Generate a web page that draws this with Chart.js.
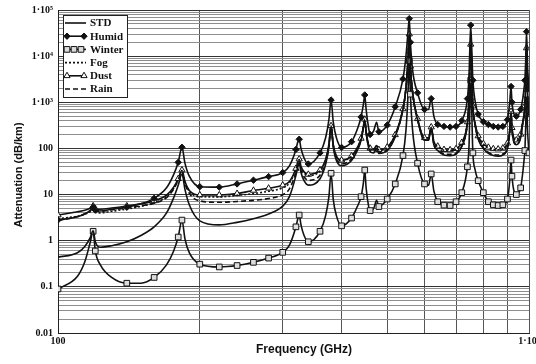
<!DOCTYPE html>
<html><head><meta charset="utf-8">
<script src="https://cdn.jsdelivr.net/npm/chart.js@4.4.1/dist/chart.umd.min.js"></script>
<style>html,body{margin:0;padding:0;background:#fff}#wrap{width:536px;height:364px}</style>
</head><body><div id="wrap"><canvas id="c" width="536" height="364"></canvas></div>
<script>
// Frequencies (GHz)
const freqs = [100,110,114,117,118.75,120,123,130,140,150,160,170,176,180,183.3,186,190,200,220,240,260,280,300,310,320,323,325.15,328,333,340,360,370,376,380,384,390,400,420,432,440,445,448,451,456,460,468,474.7,480,500,520,540,548,553,556.9,560,566,580,600,612,620,628,640,660,680,700,720,740,746,752,760,768,780,800,820,840,860,880,900,910,916,920,940,960,970,976,980,984,988,993,1000];
// Attenuation (dB/km)
const stdVals = [0.44,0.55,0.75,1.15,1.65,0.95,0.72,0.78,0.95,1.3,2.0,4.0,8.5,16,28,13,6,2.7,2.2,2.5,3.0,3.8,5.6,9,26,40,48,30,20,16,22,45,110,296,110,55,42,55,90,150,280,413,220,110,85,80,100,78,90,180,700,2000,7000,30000,6000,1600,420,150,150,270,120,90,72,70,75,110,350,1200,18000,800,330,160,100,78,70,68,72,100,220,600,250,120,170,350,500,800,2500,15000,1500,500];
const humidVals = [2.8,3.3,3.8,4.5,5.3,4.6,4.4,4.8,5.3,6.3,8.3,14,27,50,106,48,25,14.8,14.5,17,20.5,24.5,30,42,95,140,158,100,62,46,80,170,420,1120,380,170,105,140,260,480,900,1440,700,300,200,240,370,230,320,800,3200,10000,30000,65000,20000,5000,1600,700,700,1200,500,330,300,290,300,400,1200,4000,47000,3000,1100,550,380,330,300,290,300,420,1000,2200,1000,500,700,1200,2000,3000,8000,34000,6000,2000];
const winterVals = [0.09,0.17,0.35,0.9,1.6,0.6,0.3,0.16,0.12,0.12,0.16,0.3,0.6,1.2,2.8,1.1,0.55,0.31,0.27,0.29,0.34,0.42,0.56,0.8,2.0,3.0,3.6,2.2,1.3,0.95,1.6,3.5,9,29,8,3.5,2.1,3.1,5.5,9,18,34,14,6,4.5,5,7.5,5.5,8,17,70,250,1200,8000,1500,250,48,17,16,28,12,7,5.9,5.8,7,11,40,120,3000,80,35,20,11,7,6,5.8,6,8,20,56,25,10,14,30,55,90,300,1500,250,80];
const fogVals = [3.0,3.4,3.75,4.25,4.8,4.15,4.0,4.35,4.85,5.55,6.6,8.95,13.65,21.3,33,18.5,11.8,9.0,8.9,9.6,10.5,11.8,14,17.8,35.1,49.2,57.3,39.4,29.6,25.8,32.5,55.9,121.1,307.3,121.4,66.6,54,67.6,103,163.2,293.4,426.4,233.5,123.7,98.8,94,114.2,92.4,105,195.6,716.2,2017,7017,30000,6018,1617,437.4,168,168.4,288.6,138.8,109.2,91.8,90.4,96,131.6,372.2,1222,18000,822.8,353,183.4,124,102.6,95.2,93.8,98.4,127,247.3,627.5,277.6,148.2,198.8,379.1,529.3,829.4,2530,15000,1530,530];
const dustVals = [3.6,4.25,4.55,5.05,5.65,4.95,4.8,5.1,5.65,6.3,7.3,9.7,14.4,22,34,19.2,12.3,9.8,9.8,10.5,12.3,13.7,16,19.3,36.7,50.8,58.8,40.9,31.1,27.3,34,57.3,122.5,308.7,122.8,68,55.3,69,104.4,164.7,294.8,428,235,125.2,100.3,95.6,115.8,94,106.7,197.3,718,2018,7018,30000,6019,1619,439,170,170.4,290.7,140.9,111.3,94,92.7,98.3,134,374.7,1225,18000,825,355.6,186,126.7,105.3,98,96.7,101.3,130,250,630.5,280.7,151.3,202,382.3,532.5,832.7,2533,15000,1533,533];
const rainVals = [2.74,3.35,3.85,4.45,5.05,4.45,4.32,4.68,5.15,5.7,6.5,8.6,13.1,20.6,32.6,17.6,10.6,7.3,6.8,7.1,7.5,8.2,9.9,13.3,30.3,44.3,52.3,34.3,24.3,20.3,26.3,49.3,114.3,300.3,114.3,59.3,46.3,59.3,94.3,154.3,284.3,417.3,224.3,114.3,89.3,84.3,104.3,82.3,94.3,184.3,704.3,2004,7004,30000,6004,1604,424.2,154.2,154.2,274.2,124.2,94.2,76.2,74.2,79.2,114.2,354.2,1204,18000,804,334,164,104,82.1,74.1,72.1,76.1,104,224,604,254,124,174,354,504,804,2504,15000,1504,504];
const seriesNames = ['STD','Humid','Winter','Fog','Dust','Rain'];
// Frequencies carrying a marker (every 20 GHz plus the line centres)
const lineCentres = [118.75,183.3,325.15,448,556.9,752,916,988];
// Tick labels
const xTickValues = [100,200,300,400,500,600,700,800,900,1000];
const xTickLabels = ['100','','','','','','','','','1\u00b710\u00b3'];
const yDecades = [0.01,0.1,1,10,100,1000,10000,100000];
const yTickLabels = ['0.01','0.1','1','10','100','1\u00b710\u00b3','1\u00b710\u2074','1\u00b710\u2075'];

const yGridValues = [];
yDecades.forEach((d,i)=>{ if(i<yDecades.length-1){ for(let k=1;k<=9;k++) yGridValues.push(+(d*k).toPrecision(6)); } else yGridValues.push(d); });
const isDecade = v => Math.abs(Math.log10(v)-Math.round(Math.log10(v)))<1e-9;
const isMarker = f => Math.abs(f/20-Math.round(f/20))<1e-9 || lineCentres.includes(f);

const pts = vals => freqs.map((f,i)=>({x:f,y:vals[i]}));
const INK = '#111';
function mk(label, vals, extra){
  return Object.assign({
    label, data: pts(vals), borderColor: INK, borderWidth: 1.6, fill:false,
    cubicInterpolationMode:'monotone', pointRadius:0, pointBorderColor:INK, pointBorderWidth:1,
    pointBackgroundColor:'#fff'
  }, extra||{});
}
const markerRadius = r => (c)=> (c.raw && isMarker(c.raw.x)) ? r : 0;
const datasets = [
  mk(seriesNames[0], stdVals),
  mk(seriesNames[1], humidVals, {pointStyle:'rectRot', pointRadius:markerRadius(3.2), pointBackgroundColor:INK, legendMarks:[67,84], mr:3.2}),
  mk(seriesNames[2], winterVals, {pointStyle:'rect', pointRadius:markerRadius(4), pointBackgroundColor:'#ddd', legendMarks:[67,74,81], mr:4}),
  mk(seriesNames[3], fogVals, {borderDash:[2,2]}),
  mk(seriesNames[4], dustVals, {pointStyle:'triangle', pointRadius:markerRadius(3.6), pointBackgroundColor:'#fff', legendMarks:[67,84], mr:3.6}),
  mk(seriesNames[5], rainVals, {borderDash:[5,3]})
];

const serif = '"Liberation Serif","Times New Roman",serif';
const sans = '"Liberation Sans",Arial,sans-serif';

const decorPlugin = {
  id:'decor',
  afterDraw(chart){
    const ctx = chart.ctx;
    ctx.save();
    // axis titles
    ctx.fillStyle = INK;
    ctx.textAlign='center'; ctx.textBaseline='middle';
    ctx.font = 'bold 12px '+sans;
    ctx.fillText('Frequency (GHz)', 304, 350);
    ctx.font = 'bold 11px '+sans;
    ctx.save(); ctx.translate(19,175); ctx.rotate(-Math.PI/2);
    ctx.fillText('Attenuation (dB/km)', 0, 0); ctx.restore();
    // legend
    const bx=63, by=15, bw=64, bh=82;
    ctx.fillStyle='#fff'; ctx.fillRect(bx,by,bw,bh);
    ctx.strokeStyle='#222'; ctx.lineWidth=1; ctx.strokeRect(bx+0.5,by+0.5,bw,bh);
    chart.data.datasets.forEach((ds,i)=>{
      const y = 23 + i*13.2;
      ctx.strokeStyle = ds.borderColor; ctx.lineWidth = ds.borderWidth;
      ctx.setLineDash(ds.borderDash||[]);
      ctx.beginPath(); ctx.moveTo(65,y); ctx.lineTo(86,y); ctx.stroke();
      ctx.setLineDash([]);
      (ds.legendMarks||[]).forEach(mx=>{
        ctx.fillStyle = ds.pointBackgroundColor; ctx.strokeStyle = INK; ctx.lineWidth=1;
        Chart.helpers.drawPoint(ctx,{pointStyle:ds.pointStyle, radius:ds.mr, borderWidth:1, rotation:0}, mx, y);
      });
      ctx.fillStyle = INK; ctx.font='bold 11px '+serif; ctx.textAlign='left'; ctx.textBaseline='middle';
      ctx.fillText(ds.label, 90, y+0.5);
    });
    ctx.restore();
  }
};

new Chart(document.getElementById('c'), {
  type:'line',
  data:{ datasets },
  options:{
    responsive:false, animation:false, devicePixelRatio:1,
    layout:{ padding:{top:10,right:7,left:0,bottom:0} },
    plugins:{ legend:{display:false}, tooltip:{enabled:false} },
    scales:{
      x:{
        type:'logarithmic', min:100, max:1000,
        afterBuildTicks: s => { s.ticks = xTickValues.map(v=>({value:v})); },
        afterFit: s => { s.height = 31; s.paddingLeft=0; s.paddingRight=0; },
        ticks:{ autoSkip:false, maxRotation:0, minRotation:0, padding:2, color:INK,
          font:{family:serif, size:10, weight:'bold'},
          callback:(v)=>{ const i=xTickValues.findIndex(t=>Math.abs(t-v)<1e-6); return i>=0?xTickLabels[i]:''; } },
        grid:{ color:'#555', lineWidth:1, drawTicks:false },
        border:{ display:true, color:'#222', width:1 }
      },
      y:{
        type:'logarithmic', min:0.01, max:100000,
        afterBuildTicks: s => { s.ticks = yGridValues.map(v=>({value:v, major:isDecade(v)})); },
        afterFit: s => { s.width = 58; s.paddingTop=0; s.paddingBottom=0; },
        ticks:{ autoSkip:false, padding:5, color:INK,
          font:{family:serif, size:10, weight:'bold'},
          callback:(v)=>{ if(!isDecade(v)) return ''; const i=Math.round(Math.log10(v))+2; return yTickLabels[i]; } },
        grid:{ color:(c)=> (c.tick && isDecade(c.tick.value)) ? '#333' : '#8e8e8e', lineWidth:1, drawTicks:false },
        border:{ display:true, color:'#222', width:1 }
      }
    }
  },
  plugins:[decorPlugin]
});
</script></body></html>
